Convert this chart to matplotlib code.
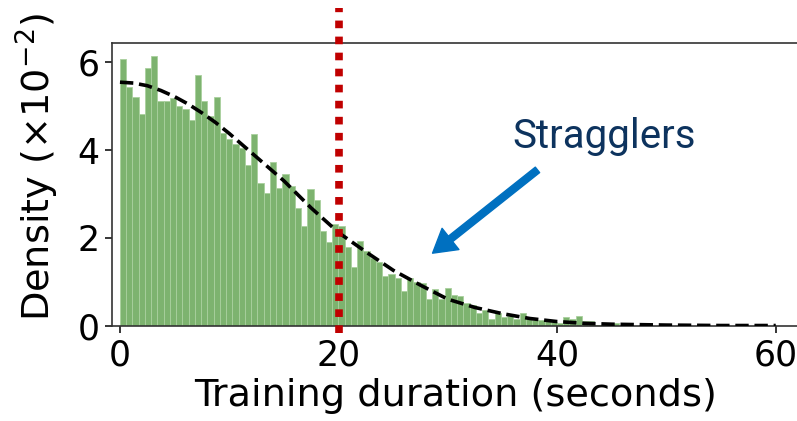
import matplotlib
matplotlib.use("Agg")
import matplotlib.pyplot as plt
import numpy as np
from matplotlib.patches import FancyArrowPatch

plt.rcParams['font.family'] = ['DejaVu Sans']
plt.rcParams['mathtext.fontset'] = 'dejavusans'

# ---- data (density values in units of 1e-2) ----
bin_count = 80
bin_max = 45.7  # seconds, right edge of last bin
bar_heights = [
    6.07, 5.44, 5.21, 4.83, 5.87, 6.15, 5.12, 5.12, 5.20, 5.01,
    4.93, 4.68, 5.72, 5.12, 4.78, 5.21, 4.40, 4.25, 4.15, 4.05,
    3.67, 4.36, 3.25, 3.02, 3.73, 3.14, 3.46, 3.19, 2.68, 2.28,
    3.12, 2.87, 2.16, 1.91, 2.32, 2.28, 1.78, 1.33, 1.93, 1.69,
    1.54, 1.46, 1.13, 1.18, 1.08, 0.79, 1.09, 1.00, 0.97, 0.60,
    0.83, 0.60, 0.85, 0.70, 0.67, 0.51, 0.47, 0.28, 0.35, 0.16,
    0.29, 0.20, 0.21, 0.16, 0.29, 0.14, 0.13, 0.12, 0.10, 0.07,
    0.05, 0.19, 0.14, 0.22, 0.10, 0.10, 0.02, 0.02, 0.03, 0.05,
]
curve_x = [0, 1.25, 2.5, 3.75, 5, 6.25, 7.5, 8.75, 10, 12.5, 15, 17.5, 20,
           22.5, 25, 27.5, 30, 32.5, 35, 37.5, 40, 42.5, 45, 50, 55, 60]
curve_y = [5.55, 5.53, 5.47, 5.36, 5.22, 5.05, 4.85, 4.63, 4.38, 3.84, 3.30,
           2.68, 2.12, 1.68, 1.26, 0.92, 0.60, 0.41, 0.27, 0.16, 0.09, 0.05,
           0.03, 0.01, 0.0, 0.0]
threshold = 20
xticks = [0, 20, 40, 60]
yticks = [0, 2, 4, 6]

fig = plt.figure(figsize=(7.97, 4.21), dpi=100)
ax = fig.add_axes([0.1405, 0.2268, 0.863, 0.6717])

edges = np.linspace(0, bin_max, bin_count + 1)
bw = edges[1] - edges[0]
ax.bar(edges[:-1], bar_heights, width=bw, align='edge',
       color='#7db36f', edgecolor='#a9d09e', linewidth=0.6, zorder=2)

ax.plot(curve_x, curve_y, color='black', linestyle='--', linewidth=2.6, zorder=3)

ax.axvline(threshold, ymin=-0.027, ymax=1.123, color='#c00000', linewidth=5.5,
           linestyle=(0, (1, 1.1)), dash_capstyle='butt', clip_on=False, zorder=4)

ax.set_xlim(-0.73, 62.2)
ax.set_ylim(0, 6.45)
ax.set_xticks(xticks)
ax.set_yticks(yticks)
ax.tick_params(labelsize=25, length=5, width=1.1, colors='black', pad=4)
for sp in ax.spines.values():
    sp.set_linewidth(1.2)
    sp.set_color('#333333')

ax.set_xlabel('Training duration (seconds)', fontsize=27.5, labelpad=4)
ax.set_ylabel('Density (×10$^{-2}$)', fontsize=27.5)
ax.yaxis.set_label_coords(-0.074, 0.56)

ax.text(44.3, 4.05, 'Stragglers', family='Roboto', fontsize=29,
        color='#0d335e', ha='center', va='baseline')

arrow = FancyArrowPatch((38.2, 3.55), (28.6, 1.65),
                        arrowstyle='simple,head_length=1.65,head_width=1.95,tail_width=0.5',
                        mutation_scale=10, color='#0070c0', shrinkA=0, shrinkB=0,
                        zorder=5)
ax.add_patch(arrow)

fig.savefig('out.png', dpi=100)
